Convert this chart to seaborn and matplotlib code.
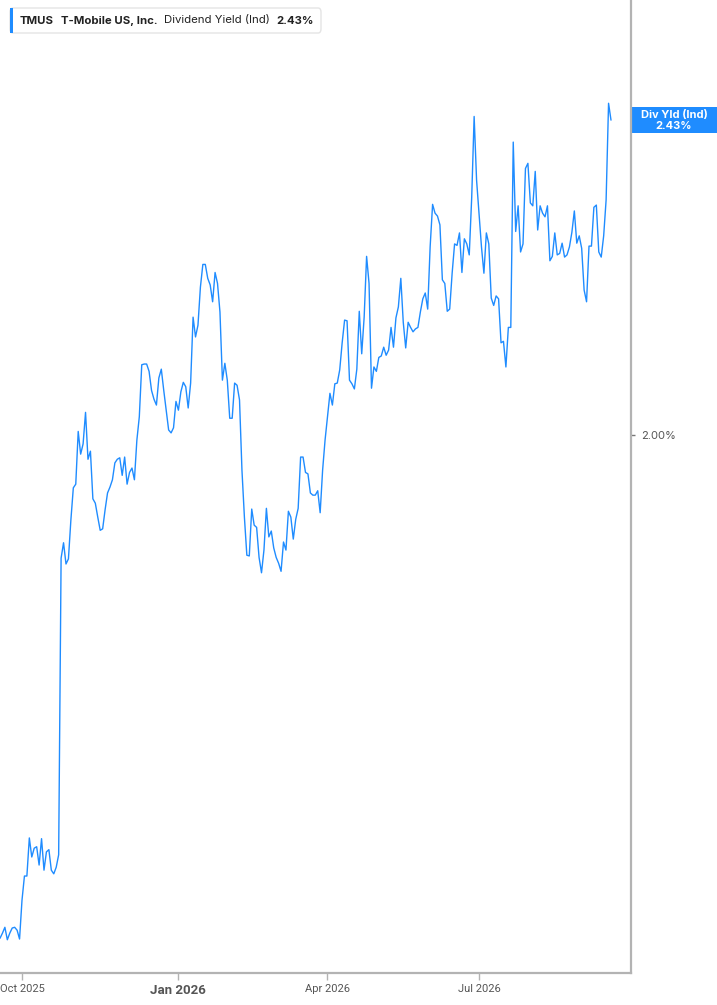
import numpy as np
import pandas as pd
import seaborn as sns
import matplotlib.pyplot as plt
from matplotlib.patches import Rectangle, FancyBboxPatch
from matplotlib.transforms import blended_transform_factory

# TMUS indicated dividend yield (%), one value per trading day from 2025-09-18
yield_pct = [
    1.313, 1.320, 1.328, 1.311, 1.320, 1.327, 1.328, 1.324, 1.312, 1.365,
    1.398, 1.398, 1.450, 1.424, 1.436, 1.438, 1.413, 1.449, 1.406, 1.431,
    1.434, 1.406, 1.401, 1.410, 1.427,
    1.832, 1.853, 1.824, 1.831, 1.884, 1.928, 1.933, 2.005, 1.974, 1.988,
    2.031, 1.967, 1.978, 1.913, 1.907, 1.888, 1.870, 1.872, 1.898, 1.921,
    1.929, 1.939, 1.962, 1.967, 1.969, 1.945, 1.970, 1.933, 1.949, 1.955,
    1.939, 1.993, 2.025, 2.096, 2.097, 2.097, 2.087, 2.061, 2.049, 2.041,
    2.078, 2.090,
    2.061, 2.034, 2.007, 2.003, 2.010, 2.046, 2.034, 2.059, 2.072, 2.066,
    2.037, 2.071, 2.161, 2.134, 2.150, 2.202, 2.233, 2.233, 2.214, 2.205,
    2.182, 2.222, 2.207, 2.168, 2.075, 2.098, 2.075, 2.023, 2.023, 2.071,
    2.068, 2.048, 1.952, 1.888, 1.836, 1.835, 1.899, 1.877, 1.874, 1.833,
    1.812, 1.843, 1.900, 1.861, 1.869, 1.846, 1.833, 1.825, 1.814, 1.854,
    1.843, 1.896, 1.888, 1.858, 1.885, 1.900, 1.970, 1.970, 1.949, 1.947,
    1.921, 1.918, 1.918, 1.924, 1.894,
    1.952, 1.993, 2.025, 2.057, 2.041, 2.070, 2.071, 2.089, 2.126, 2.157,
    2.156, 2.075, 2.070, 2.063, 2.090, 2.169, 2.111, 2.161, 2.244, 2.207,
    2.064, 2.093, 2.087, 2.106, 2.108, 2.120, 2.109, 2.116, 2.147, 2.120,
    2.160, 2.175, 2.214, 2.154, 2.119, 2.154, 2.147, 2.141, 2.145, 2.147,
    2.168, 2.186, 2.194, 2.172, 2.257, 2.315, 2.303, 2.299, 2.287, 2.212,
    2.207, 2.169, 2.172, 2.221, 2.261, 2.259, 2.276, 2.222, 2.268, 2.261,
    2.246, 2.324, 2.435, 2.348, 2.303, 2.257, 2.221, 2.276, 2.261, 2.187,
    2.177, 2.190, 2.186, 2.126, 2.128, 2.093, 2.147, 2.147, 2.400, 2.278,
    2.313, 2.250, 2.261, 2.364, 2.371, 2.317, 2.313, 2.360, 2.280, 2.313,
    2.303, 2.298, 2.313, 2.238, 2.244, 2.276, 2.246, 2.248, 2.262, 2.243,
    2.246, 2.257, 2.277, 2.306, 2.262, 2.272, 2.255, 2.198, 2.182, 2.258,
    2.258, 2.311, 2.314, 2.250, 2.243, 2.272, 2.321, 2.453, 2.430,
]
start_date = '2025-09-18'
market_holidays = ['2025-11-27', '2025-12-25', '2026-01-01', '2026-01-19',
                   '2026-02-16', '2026-04-03', '2026-05-25', '2026-06-19',
                   '2026-07-03', '2026-09-07']
tick_months = ['2025-10-01', '2026-01-01', '2026-04-01', '2026-07-01']
tick_labels = ['Oct 2025', 'Jan 2026', 'Apr 2026', 'Jul 2026']
y_ticks = [2.0]

ticker = 'TMUS'
company = 'T-Mobile US, Inc.'
metric = 'Dividend Yield (Ind)'

blue = '#1f8cff'
grey = '#b3b3b3'

days = pd.bdate_range(start_date, periods=len(yield_pct), freq='C',
                      holidays=market_holidays)
df = pd.DataFrame({'day': np.arange(len(days)), 'date': days, 'value': yield_pct})
last = df['value'].iloc[-1]

sns.set_style('white')
plt.rcParams['font.family'] = ['Inter', 'DejaVu Sans']

W, H = 717, 1005
fig = plt.figure(figsize=(W / 100, H / 100), dpi=100)
ax = fig.add_axes([0, 1 - 973 / H, 631 / W, 973 / H])

sns.lineplot(data=df, x='day', y='value', ax=ax, color=blue, linewidth=1.0)

n = len(df)
ax.set_xlim(0, (n - 1) * 631 / 611)
ax.set_ylim(1.2656, 2.594)

for s in ['top', 'left']:
    ax.spines[s].set_visible(False)
for s in ['right', 'bottom']:
    ax.spines[s].set_color(grey)
    ax.spines[s].set_linewidth(1.6)

tick_pos = [int(np.searchsorted(df['date'].values, np.datetime64(m))) for m in tick_months]
ax.set_xticks(tick_pos)
ax.set_xticklabels(tick_labels)
ax.tick_params(axis='x', length=5, width=1, color=grey, colors='#555555',
               labelsize=8, pad=3, bottom=True)
for lbl in ax.get_xticklabels():
    lbl.set_family(['Roboto', 'DejaVu Sans'])
    if lbl.get_text().startswith('Jan'):
        lbl.set_fontweight('bold')
        lbl.set_fontsize(9.5)

ax.yaxis.tick_right()
ax.set_yticks(y_ticks)
ax.set_yticklabels([f'{v:.2f}%' for v in y_ticks])
ax.tick_params(axis='y', length=3, width=1, color='#777777', colors='#555555',
               labelsize=8, pad=4, right=True, left=False)
ax.set_xlabel('')
ax.set_ylabel('')
ax.grid(False)

# last value badge on the right axis
tr = blended_transform_factory(ax.transAxes, ax.transData)
half = 13 * (2.594 - 1.2656) / 973
ax.add_patch(Rectangle((632 / 631, last - half), 85 / 631, 2 * half,
                       transform=tr, facecolor=blue, edgecolor='none', clip_on=False))
ax.text(674 / 631, last + half * 0.42, 'Div Yld (Ind)', transform=tr, ha='center',
        va='center', color='white', fontsize=8, fontweight='bold')
ax.text(674 / 631, last - half * 0.48, f'{last:.2f}%', transform=tr, ha='center',
        va='center', color='white', fontsize=8, fontweight='bold')

# legend header
def fx(x):
    return x / W

def fy(y):
    return 1 - y / H

fig.patches.append(FancyBboxPatch((fx(10), fy(33)), fx(311), 25 / H,
                                  boxstyle='round,pad=0,rounding_size=0.004',
                                  transform=fig.transFigure, facecolor='white',
                                  edgecolor='#e4e4e4', linewidth=1))
fig.patches.append(Rectangle((fx(10), fy(33)), fx(3), 25 / H,
                             transform=fig.transFigure, facecolor=blue,
                             edgecolor='none'))
hdr = dict(fontsize=8.2, color='#222222', va='center')
fig.text(fx(20), fy(20.5), ticker, fontweight='bold', **hdr)
fig.text(fx(61), fy(20.5), company, fontweight='bold', **hdr)
fig.text(fx(164), fy(20.5), metric, **hdr)
fig.text(fx(276), fy(20.5), f'{last:.2f}%', fontweight='bold', **hdr)

fig.savefig('out.png', dpi=100)
